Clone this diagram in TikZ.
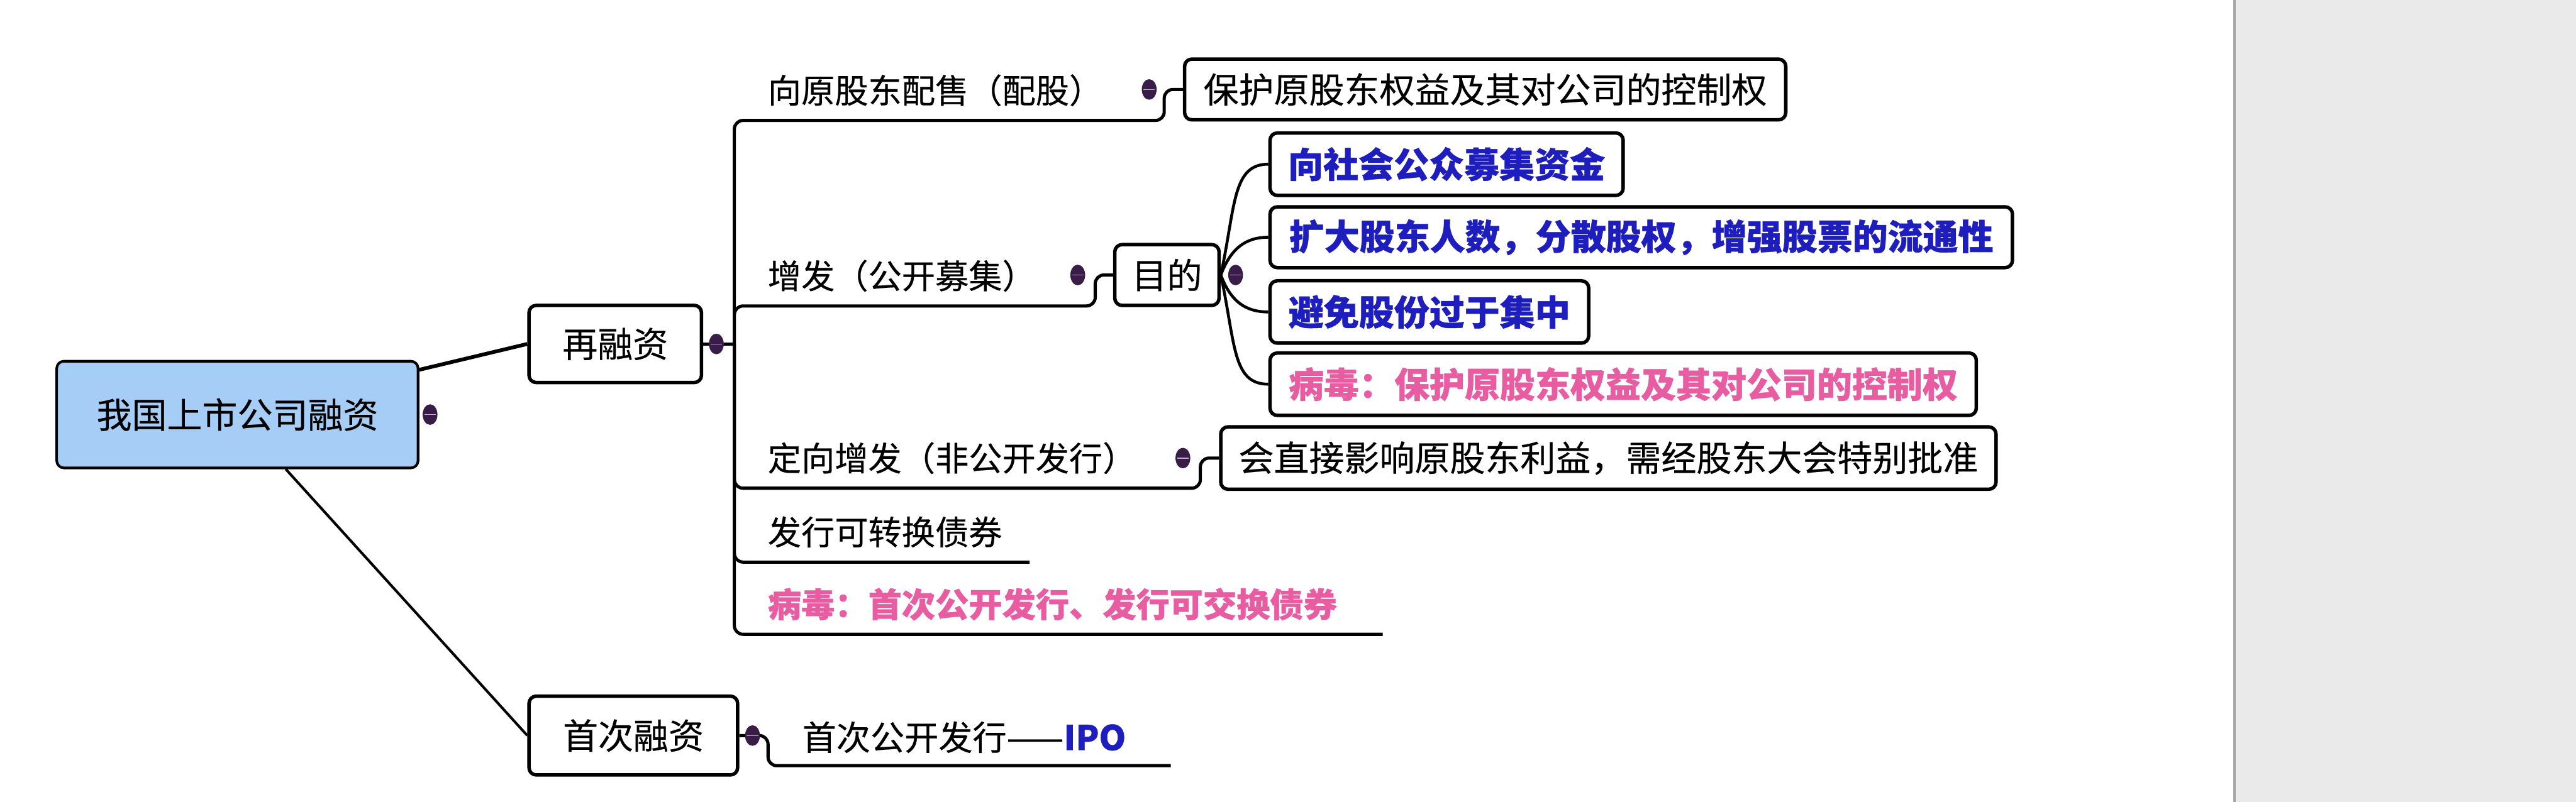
\documentclass[tikz,border=0pt]{standalone}
\usepackage{fontspec}
\setmainfont{Noto Sans CJK SC}[UprightFeatures={FakeBold=0.35}, BoldFeatures={FakeBold=0.8}]
\usepackage{xcolor}
\usepackage{tikz}
\usetikzlibrary{calc, positioning}

\definecolor{rootblue}{RGB}{166,205,245}
\definecolor{goalblue}{RGB}{30,30,190}
\definecolor{viruspink}{RGB}{232,92,162}
\definecolor{knobpurple}{RGB}{58,28,72}
\definecolor{panelgray}{RGB}{234,234,234}
\definecolor{panelline}{RGB}{165,165,165}

\begin{document}
\begin{tikzpicture}[x=0.02cm, y=-0.02cm, line join=round,
    box/.style={draw, line width=1.2pt, rounded corners=2.5pt, fill=white,
        inner sep=0pt, font=\fontsize{12.2pt}{14pt}\selectfont},
    rootbox/.style={box, fill=rootblue, line width=0.9pt},
    goal/.style={box, text=goalblue, font=\fontsize{12.2pt}{14pt}\selectfont\bfseries},
    virus/.style={box, text=viruspink, font=\fontsize{12.2pt}{14pt}\selectfont\bfseries},
    topic/.style={anchor=west, inner sep=0pt, minimum height=0.72cm, align=left,
        font=\fontsize{11.6pt}{14pt}\selectfont},
    link/.style={line width=1.1pt, rounded corners=3pt}]

    % =================================================================
    % 1. 画布与右侧灰色边栏
    % =================================================================
    \useasboundingbox (0,0) rectangle (1568,488.4);
    \fill[white] (0,0) rectangle (1360,488.4);
    \fill[panelgray] (1360,0) rectangle (1568,488.4);
    \draw[panelline, line width=0.8pt] (1360,0) -- (1360,488.4);

    % =================================================================
    % 2. 中心主题与一级分支
    % =================================================================
    \node[rootbox, minimum width=4.4cm, minimum height=1.3cm] (root) at (144.5,252.5) {我国上市公司融资};
    \node[box, minimum width=2.1cm, minimum height=0.94cm] (rerong) at (374.5,209.5) {再融资};
    \node[box, minimum width=2.54cm, minimum height=0.96cm] (shouci) at (385.5,448) {首次融资};

    \draw[link, line width=1.3pt] ([yshift=-0.12cm]root.north east) -- (rerong.west);
    \draw[link, line width=0.9pt] ([xshift=0.59cm]root.south) -- (shouci.west);

    % =================================================================
    % 3. 再融资的下级主题（带下划线）
    % =================================================================
    \node[topic, text width=4.82cm] (peigu) at (467,55) {向原股东配售（配股）};
    \node[topic, text width=3.98cm] (zengfa) at (467,168) {增发（公开募集）};
    \node[topic, text width=5.26cm] (dingxiang) at (467,279) {定向增发（非公开发行）};
    \node[topic, text width=3.18cm] (kezhuan) at (467,324) {发行可转换债券};
    \node[topic, text width=7.48cm, text=viruspink,
        font=\fontsize{11.6pt}{14pt}\selectfont\bfseries] (bingdu) at (467,368) {病毒：首次公开发行、发行可交换债券};

    % 右侧说明框
    \node[box, anchor=west, minimum width=7.32cm, minimum height=0.74cm] (baohu) at (720,54.5) {保护原股东权益及其对公司的控制权};
    \node[box, anchor=west, minimum width=1.27cm, minimum height=0.74cm] (mude) at (677.5,167.5) {目的};
    \node[box, anchor=west, minimum width=9.44cm, minimum height=0.76cm] (yingxiang) at (742,279) {会直接影响原股东利益，需经股东大会特别批准};

    % 树干与折线
    \coordinate (spine) at (447,209.5);
    \draw[link] (rerong.east) -- (spine);
    \draw[link] (spine) |- (peigu.south east) |- (baohu.west);
    \draw[link] (spine) |- (zengfa.south east) |- (mude.west);
    \draw[link] (spine) |- (dingxiang.south east) |- (yingxiang.west);
    \draw[link] (spine) |- (kezhuan.south east);
    \draw[link] (spine) |- (bingdu.south east);

    % =================================================================
    % 4. “目的”的四个子框（曲线连接）
    % =================================================================
    \node[goal, anchor=west, minimum width=4.3cm, minimum height=0.76cm] (g1) at (772,100) {向社会公众募集资金};
    \node[goal, anchor=west, minimum width=9.04cm, minimum height=0.74cm] (g2) at (772,144.5) {扩大股东人数，分散股权，增强股票的流通性};
    \node[goal, anchor=west, minimum width=3.88cm, minimum height=0.76cm] (g3) at (772,190) {避免股份过于集中};
    \node[virus, anchor=west, minimum width=8.6cm, minimum height=0.76cm] (g4) at (772,234) {病毒：保护原股东权益及其对公司的控制权};

    \draw[line width=1pt] (mude.east) .. controls ($(mude.east)+(9,-42)$) and ($(g1.west)+(-22,0)$) .. (g1.west);
    \draw[line width=1pt] (mude.east) .. controls ($(mude.east)+(6,-16)$) and ($(g2.west)+(-14,0)$) .. (g2.west);
    \draw[line width=1pt] (mude.east) .. controls ($(mude.east)+(6,16)$) and ($(g3.west)+(-14,0)$) .. (g3.west);
    \draw[line width=1pt] (mude.east) .. controls ($(mude.east)+(9,42)$) and ($(g4.west)+(-22,0)$) .. (g4.west);

    % =================================================================
    % 5. 首次融资分支
    % =================================================================
    \node[topic, text width=4.48cm, minimum height=0.68cm,
        font=\fontsize{11.8pt}{14pt}\selectfont] (ipo) at (488,449) {首次公开发行——\textcolor{goalblue}{\bfseries IPO}};
    \coordinate (ipobend) at (467.5,448);
    \draw[link] (shouci.east) -- (ipobend) |- (ipo.south east);

    % =================================================================
    % 6. 折叠按钮（深紫色小椭圆）
    % =================================================================
    \newcommand{\drawknob}[1]{
        \fill[knobpurple] #1 ellipse (0.09cm and 0.125cm);
        \draw[white!65!knobpurple, line width=0.3pt] ($#1+(-3.5,0)$) -- ($#1+(3.5,0)$);
    }
    \drawknob{([xshift=0.13cm]root.east)}
    \drawknob{([xshift=0.16cm]rerong.east)}
    \drawknob{([xshift=-0.41cm]baohu.west)}
    \drawknob{([xshift=-0.43cm]mude.west)}
    \drawknob{([xshift=0.18cm]mude.east)}
    \drawknob{([xshift=-0.44cm]yingxiang.west)}
    \drawknob{([xshift=0.16cm]shouci.east)}

\end{tikzpicture}
\end{document}
